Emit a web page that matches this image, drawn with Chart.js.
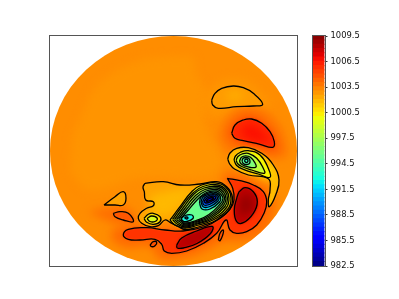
<!DOCTYPE html>
<html><head><meta charset="utf-8">
<style>html,body{margin:0;padding:0;background:#fff}canvas{position:absolute;left:0;top:0;filter:blur(.3px)}</style>
<script src="https://cdn.jsdelivr.net/npm/chart.js@4"></script>
</head><body>
<canvas id="map" width="399" height="299"></canvas>
<canvas id="bar" width="399" height="299"></canvas>
<script>
// colour bar
const barMin = 982.5, barMax = 1009.5;
const barTicks = [982.5,985.5,988.5,991.5,994.5,997.5,1000.5,1003.5,1006.5,1009.5];
// plot frame in map units
const xRange = [50,297], yRange = [36,266];
const discCentre = [173.5,151], discRadius = [123.5,115];
const baseBox = [[50,36],[297,36],[297,266],[50,266]];

// soft shading (no contour line)
const softCentre = [[72,135],[108,76],[190,56],[197,76],[207,92],[205,125],[222,160],[212,176],[140,178],[90,190],[70,172]];
const softHaloA = [[205,100],[215,84],[240,79],[262,93],[270,108],[240,114],[210,117]];
const softHaloB1 = [[218,135],[230,114],[250,106],[274,118],[287,145],[284,158],[250,154],[226,152]];
const softHaloB2 = [[227,134],[235,121],[250,115],[266,124],[278,142],[276,152],[255,148],[235,144]];
const softHaloG = [[224,172],[250,177],[273,195],[273,215],[263,233],[240,241],[225,241],[205,251],[180,259],[160,259],[150,247],[125,247],[111,236],[125,225],[170,226],[215,205],[222,185]];
const softHaloN = [[88,212],[105,208],[125,207],[138,222],[125,226],[105,220]];
const softYellowTail = [[252,172],[262,168],[272,172],[272,178],[262,177]];
const softYellowLow = [[150,196],[175,190],[192,190],[178,208],[165,216],[150,212]];
const softInnerA = [[224,96],[235,91],[244,96],[233,101]];
const softInnerB = [[240,131],[250,124],[262,131],[269,141],[255,141],[245,138]];
const softInnerI1 = [[240,199],[245,192],[251,197],[254,205],[248,214],[241,218],[238,210]];
const softInnerI2 = [[242,202],[246,197],[250,202],[250,208],[245,212],[242,209]];
const softInnerJ = [[182,243],[195,236],[208,230],[206,234],[195,240],[184,245]];

// contour lines
const cUpper = [[211.7,100],[215,93.3],[221.7,88.3],[233.3,86],[243.3,87.7],[253.3,93.3],[262.7,104.3],[253.3,106],[236.7,106.7],[218.3,108.3],[212.7,105],[211.7,100]];
const cRedCap = [[231.7,133.3],[235,125],[243.3,120],[251.7,119],[261.7,123.3],[270,131.7],[274.3,141.7],[272.7,147.3],[260,144.3],[243.3,140.7],[235,138.3],[231.7,133.3]];
const cTear1 = [[227.7,159],[230,164.5],[234.5,169],[248.3,175],[268.3,178.7],[270,190],[268.3,200],[269.3,206.7],[275.7,195],[279,180],[273.3,165],[261.7,153.3],[248.3,147.7],[236.7,148.3],[230,153],[227.7,159]];
const cTear2 = [[234,160],[235.5,156],[240,152.5],[248.3,150.7],[260,155],[268.3,168.3],[270,177.3],[258.3,174],[243.3,169.3],[236.7,165.5],[234,160]];
const cTear3 = [[236.2,160],[238,156.5],[242,154],[248.3,153.3],[256.7,158.3],[263.3,168.3],[264.3,173.3],[251.7,170],[241.7,166.5],[237.5,163.5],[236.2,160]];
const cTear5 = [[239.5,161],[241.5,157.3],[245.7,155.8],[250.5,157.3],[255,163],[256,167],[250.5,167.5],[244.5,165.8],[241,163.8],[239.5,161]];
const cTear6 = [[242,161],[243,158.5],[245.7,157.5],[248.6,158.3],[250,161],[249.2,163.7],[245.5,164.5],[243,163.2],[242,161]];
const cTear7 = [[244.3,160.7],[246,159],[248,160.7],[246.3,162.7],[244.3,160.7]];
const cTrough = [[227.3,178.3],[240,180.7],[253.3,185],[263.3,191.7],[266.7,201.7],[264,213.3],[256.7,225],[246.7,231.7],[236.7,233.3],[230,230],[226,220],[216.7,233.3],[203.3,243.3],[186.7,251],[171.7,253.3],[164.3,251],[161.7,244.3],[155,239.3],[140,240],[128.3,239.3],[123.3,235],[128.3,229.3],[146.7,227.7],[165,230],[183,231],[205,226.5],[220,218.3],[230,209.3],[234,200],[232.7,188.3],[227.3,178.3]];
const cDeepI = [[239,191.7],[245,187.7],[253.3,191.7],[257.3,201.7],[253.3,213.3],[243.3,222.7],[236.7,221.7],[234.3,210],[236.7,198.3],[239,191.7]];
const cDeepJ = [[176.7,245],[181.7,238],[196.7,231],[212.3,226.5],[210.5,233.5],[197,243.5],[183.3,248],[177.3,248],[176.7,245]];
const cDotK = [[150,245],[153.3,241.7],[156.7,242.3],[155,245.7],[151.7,246.7],[150,245]];
const cDotL = [[218.3,240],[220,233.3],[223.3,230],[222.7,235],[220,240.7],[218.3,240]];
const cLeftM = [[104,205],[115,196.7],[123.3,191.7],[126,198.3],[123.3,205],[115,205],[104,205]];
const cLeftN = [[113.3,213.3],[120,211.7],[128.3,213.3],[133.3,221.7],[123.3,220],[115,216.7],[113.3,213.3]];
const cSmall1 = [[144,218.3],[148.3,214.3],[153.3,213.3],[160,216.7],[160,221.7],[153.3,224.3],[146.7,222.3],[144,218.3]];
const cSmall2 = [[147,218.5],[151.7,216],[157.3,218.3],[155,221.5],[150,221.5],[147,218.5]];
const cLow02 = [[145,183.3],[163.3,181.7],[180,185],[200,184],[216.7,181.7],[226.7,186.7],[232.3,196.7],[230,208.3],[216.7,220],[203,225.5],[193,228.5],[185,229.5],[178.3,226.7],[170,222.3],[165,220],[158.3,225.7],[150,226.7],[141.7,223.3],[138.3,218.3],[140,213.3],[146.7,208.3],[153.3,205.7],[153.3,201.7],[145.7,200],[144.3,191.7],[143,187],[145,183.3]];
const cLow03 = [[170,220],[180,206.7],[191.7,191.7],[201.7,185],[218.3,183.3],[228.3,190],[231,198.3],[228.3,208.3],[214,219.5],[196.7,225.5],[185,228],[175,225],[170,220]];
const cLow04 = [[172.5,219.5],[181.5,207],[193,193],[203,186.5],[218,185],[226.5,190.5],[229,198.5],[226.5,207.5],[213,218.5],[196,224.5],[185,227],[177,224],[172.5,219.5]];
const cLow05 = [[174.5,219.5],[183,208],[194,194],[204,188],[218,186.5],[225,191],[227.5,198.5],[225,206.5],[212,217.5],[196,223.5],[185,226],[178.5,223],[174.5,219.5]];
const cLow06 = [[176.5,219.5],[184.5,209],[195.5,195.5],[205,189.5],[217.5,188],[223.5,192],[226,198.5],[223.5,205.5],[211,216.5],[196,222.5],[185,225],[180,222],[176.5,219.5]];
const cLow07 = [[178.5,219],[186,210],[197,197],[206,191],[217,189.5],[222,193],[224.5,198.5],[222,204.5],[210,215.5],[196,221.5],[185,224],[181.5,221.5],[178.5,219]];
const cLow08 = [[180.5,218.5],[187.5,211],[198.5,198.5],[206.5,192.5],[216.5,191],[220.5,194],[223,198.5],[220.5,203.5],[209,214.5],[196,220.5],[185,223],[182.5,220.5],[180.5,218.5]];
const cLow09a = [[199.5,203],[201,197],[207,193.5],[216,192.5],[220.5,197],[219.5,202],[210,209],[202,209],[199.5,203]];
const cLow09b = [[181,219],[185,215.5],[192,215],[193,218.5],[187,221.5],[182.5,221],[181,219]];
const cLow10 = [[201,202],[203,197],[208,194.5],[215.5,194],[219,197.5],[218,201],[210,206.5],[203.5,207],[201,202]];
const cLow11 = [[202.5,202],[205,197.5],[209,195.5],[215,195],[217.5,198],[216,200.5],[209.5,204.5],[204,205],[202.5,202]];
const cLow12 = [[204,201.5],[207,198],[211,196.5],[215,196.5],[215.5,198.5],[211,201.5],[206,203],[204,201.5]];
const cLow13 = [[206,201],[209,198.5],[213,197.5],[213.5,198.5],[210,200.5],[207,201.5],[206,201]];
const cLowDot = [[184.5,218],[186,217],[188,217.7],[187,219],[184.5,218]];

// [outline, pressure level, has contour line] painted in this order
const layers = [
  [baseBox,1003.05,0],[softCentre,1002.85,0],[softHaloA,1002.8,0],[softHaloB1,1003.7,0],[softHaloB2,1004.6,0],
  [softHaloG,1004,0],[softHaloN,1003.9,0],
  [cUpper,1002.6,1],[softInnerA,1002.1,0],[cRedCap,1005.9,1],[softInnerB,1006.6,0],
  [cTear1,1001.7,1],[softYellowTail,1000.6,0],[cTear2,1000,1],[cTear3,998.2,1],[cTear5,996,1],[cTear6,994.6,1],[cTear7,993,1],
  [cTrough,1005.6,1],[cDeepI,1008,1],[softInnerI1,1008.6,0],[softInnerI2,1009.1,0],[cDeepJ,1008,1],[softInnerJ,1008.7,0],
  [cDotK,1004.9,1],[cDotL,1004.9,1],[cLeftM,1002.4,1],[cLeftN,1004.6,1],
  [cLow02,1002.4,1],[softYellowLow,1001.8,0],[cSmall1,1000.5,1],[cSmall2,998.8,1],
  [cLow03,1000.4,1],[cLow04,999.4,1],[cLow05,998.4,1],[cLow06,997.4,1],[cLow07,996.4,1],[cLow08,995.4,1],
  [cLow09b,992.5,1],[cLowDot,988,1],[cLow09a,992,1],[cLow10,990,1],[cLow11,988,1],[cLow12,986,1],[cLow13,984,1]
];

function ramp(t, pairs){
  for(let i=1;i<pairs.length;i++){
    if(t<=pairs[i][0]){
      const [a,va]=pairs[i-1],[b,vb]=pairs[i];
      return va+(vb-va)*(t-a)/(b-a);
    }
  }
  return pairs[pairs.length-1][1];
}
function jet(level){
  const t=Math.min(1,Math.max(0,(level-barMin)/(barMax-barMin)));
  const r=ramp(t,[[0,0],[.35,0],[.66,1],[.89,1],[1,.5]]);
  const g=ramp(t,[[0,0],[.125,0],[.375,1],[.64,1],[.91,0],[1,0]]);
  const b=ramp(t,[[0,.5],[.11,1],[.34,1],[.65,0],[1,0]]);
  return `rgb(${Math.round(r*255)},${Math.round(g*255)},${Math.round(b*255)})`;
}

const frame = {
  id:'frame',
  afterDraw(c){
    const a=c.chartArea,x=c.ctx;
    x.save();x.strokeStyle='#555';x.lineWidth=1;
    x.strokeRect(Math.round(a.left)-.5,Math.round(a.top)-.5,Math.round(a.width)+1,Math.round(a.height)+1);
    x.restore();
  }
};
const shading = {
  id:'shading',
  beforeDatasetsDraw(c){
    const x=c.ctx,sx=c.scales.x,sy=c.scales.y;
    x.save();
    x.beginPath();
    x.ellipse(sx.getPixelForValue(discCentre[0]),sy.getPixelForValue(discCentre[1]),
      Math.abs(sx.getPixelForValue(discCentre[0]+discRadius[0])-sx.getPixelForValue(discCentre[0])),
      Math.abs(sy.getPixelForValue(discCentre[1]+discRadius[1])-sy.getPixelForValue(discCentre[1])),0,0,Math.PI*2);
    x.clip();
    c.data.datasets.forEach((d,i)=>{
      const line=c.getDatasetMeta(i).dataset;
      line.updateControlPoints(c.chartArea,'x');
      x.filter=i===0?'none':(d.hasLine?'blur(1px)':'blur(4px)');
      x.fillStyle=d.shade;
      x.beginPath();line.path(x);x.closePath();x.fill();
    });
    x.filter='none';
    x.restore();
  }
};

new Chart(document.getElementById('map'),{
  type:'scatter',
  data:{datasets:layers.map(([pts,level,hasLine])=>({
    data:pts.map(([x,y])=>({x,y})),
    showLine:true,pointRadius:0,tension:.45,
    borderColor:hasLine?'#000':'rgba(0,0,0,0)',borderWidth:hasLine?1.3:0,
    shade:jet(level),hasLine:!!hasLine
  }))},
  options:{
    responsive:false,animation:false,events:[],
    layout:{padding:{left:xRange[0],right:399-xRange[1],top:yRange[0],bottom:299-yRange[1]}},
    scales:{
      x:{type:'linear',min:xRange[0],max:xRange[1],display:false},
      y:{type:'linear',min:yRange[0],max:yRange[1],reverse:true,display:false}
    },
    plugins:{legend:{display:false},tooltip:{enabled:false}}
  },
  plugins:[shading,frame]
});

const barLevels=[];
for(let v=barMin;v<barMax;v+=.5)barLevels.push(v);
new Chart(document.getElementById('bar'),{
  type:'bar',
  data:{labels:['p'],datasets:barLevels.map(v=>({
    data:[[v,Math.min(barMax,v+.56)]],
    backgroundColor:jet(v+.25),borderWidth:0,grouped:false,
    barPercentage:1,categoryPercentage:1
  }))},
  options:{
    responsive:false,animation:false,events:[],
    layout:{padding:{left:312.5,top:36,bottom:33,right:0}},
    scales:{
      x:{display:false},
      y:{
        type:'linear',position:'right',min:barMin,max:barMax,
        afterBuildTicks(s){s.ticks=barTicks.map(value=>({value}));},
        afterFit(s){s.width=74.5;},
        grid:{drawOnChartArea:false,drawTicks:true,tickLength:3,color:'#333',lineWidth:1},
        border:{display:false},
        ticks:{autoSkip:false,padding:3,color:'#111',font:{family:'DejaVu Sans',size:8.4},callback:v=>v.toFixed(1),maxRotation:0}
      }
    },
    plugins:{legend:{display:false},tooltip:{enabled:false}}
  },
  plugins:[frame]
});
</script>
</body></html>
